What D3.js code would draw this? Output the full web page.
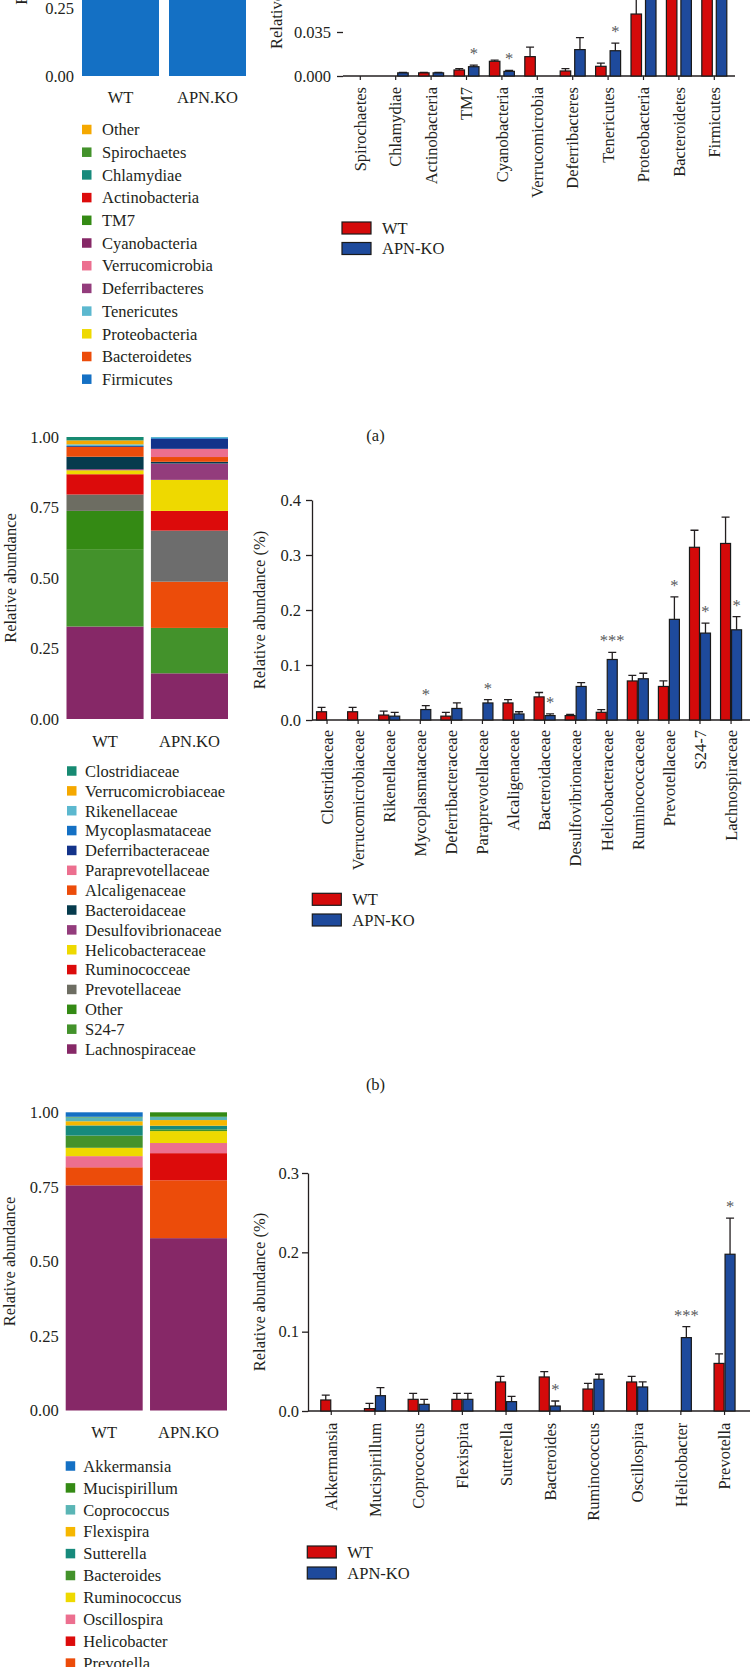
<!DOCTYPE html>
<html><head><meta charset="utf-8">
<script src="https://cdn.jsdelivr.net/npm/d3@7"></script>
<style>
body{margin:0;background:#fff}
svg{display:block}
text{font-family:"Liberation Serif","Times New Roman",serif;fill:#231f20}
</style>
</head><body>
<svg id="fig" width="751" height="1667"></svg>
<script>
// ---------------- DATA ----------------
const groups = ["WT", "APN.KO"];
const seriesNames = ["WT", "APN-KO"];
const stackTicks = [0, 0.25, 0.5, 0.75, 1];

// Panel (a): phyla, stacked (legend order top -> bottom)
const phyla = ["Other","Spirochaetes","Chlamydiae","Actinobacteria","TM7","Cyanobacteria","Verrucomicrobia","Deferribacteres","Tenericutes","Proteobacteria","Bacteroidetes","Firmicutes"];
const phylaColors = ["#f5a800","#43922b","#178a7c","#dc0b0b","#348a14","#862867","#ec6f8f","#933c7c","#5cb8cf","#eed900","#ec4c0a","#1470c4"];
const phylaStackWT = [0.003,0,0,0.002,0.005,0.012,0.015,0.004,0.008,0.049,0.28,0.622];
const phylaStackKO = [0.003,0,0.002,0.002,0.007,0.004,0,0.021,0.02,0.09,0.33,0.521];

// Panel (a): phyla, grouped bars
const phylaCats = ["Spirochaetes","Chlamydiae","Actinobacteria","TM7","Cyanobacteria","Verrucomicrobia","Deferribacteres","Tenericutes","Proteobacteria","Bacteroidetes","Firmicutes"];
const phylaWT    = [0, 0, 0.0025, 0.0048, 0.0117, 0.0154, 0.004, 0.0077, 0.0493, 0.28, 0.62];
const phylaWTErr = [0, 0, 0.0003, 0.001, 0.001, 0.0076, 0.0018, 0.0026, 0.025, 0.04, 0.05];
const phylaKO    = [0, 0.0025, 0.0025, 0.0074, 0.0037, 0, 0.021, 0.0201, 0.09, 0.33, 0.52];
const phylaKOErr = [0, 0.0003, 0.0003, 0.0013, 0.0008, 0, 0.0095, 0.006, 0.02, 0.04, 0.05];
const phylaSig   = ["","","","*","*","","","*","","",""];
const phylaTicks = [0, 0.035];

// Panel (b): families, stacked (legend order top -> bottom)
const families = ["Clostridiaceae","Verrucomicrobiaceae","Rikenellaceae","Mycoplasmataceae","Deferribacteraceae","Paraprevotellaceae","Alcaligenaceae","Bacteroidaceae","Desulfovibrionaceae","Helicobacteraceae","Ruminococceae","Prevotellaceae","Other","S24-7","Lachnospiraceae"];
const familyColors = ["#178a72","#f5a800","#5cb8cf","#1470c4","#13338a","#ec6f8f","#ec4c0a","#063b4d","#933c7c","#eed900","#dc0b0b","#6d6d62","#348a14","#43922b","#862867"];
const familyColorsKO = ["#178a72","#f5a800","#5cb8cf","#1470c4","#13338a","#ec6f8f","#ec4c0a","#063b4d","#933c7c","#eed900","#dc0b0b","#6d6d6d","#ec4c0a","#43922b","#862867"];
const famStackWT = [0.012,0.014,0.006,0,0.003,0,0.035,0.044,0.004,0.014,0.072,0.058,0.138,0.272,0.328];
const famStackKO = [0,0,0.004,0.003,0.035,0.029,0.017,0.006,0.058,0.11,0.07,0.181,0.164,0.161,0.162];

// Panel (b): families, grouped bars
const famCats = ["Clostridiaceae","Verrucomicrobiaceae","Rikenellaceae","Mycoplasmataceae","Deferribacteraceae","Paraprevotellaceae","Alcaligenaceae","Bacteroidaceae","Desulfovibrionaceae","Helicobacteraceae","Ruminococcaceae","Prevotellaceae","S24-7","Lachnospiraceae"];
const famWT    = [0.015,0.015,0.009,0,0.007,0,0.031,0.042,0.008,0.014,0.071,0.061,0.314,0.321];
const famWTErr = [0.008,0.008,0.007,0,0.007,0,0.006,0.008,0.002,0.005,0.01,0.01,0.031,0.048];
const famKO    = [0,0,0.007,0.019,0.021,0.031,0.011,0.008,0.061,0.11,0.075,0.183,0.158,0.164];
const famKOErr = [0,0,0.007,0.007,0.01,0.006,0.004,0.003,0.007,0.013,0.01,0.041,0.018,0.024];
const famSig   = ["","","","*","","*","","*","","***","","*","*","*"];
const famTicks = [0, 0.1, 0.2, 0.3, 0.4];

// Panel (c): genera, stacked (legend order top -> bottom)
const genera = ["Akkermansia","Mucispirillum","Coprococcus","Flexispira","Sutterella","Bacteroides","Ruminococcus","Oscillospira","Helicobacter","Prevotella","Other"];
const genusColors = ["#1470c4","#348a14","#5ab5b5","#f6b700","#178a7c","#43922b","#eed900","#ec6f8f","#dc0b0b","#ec4c0a","#862867"];
const genStackWT = [0.015,0.002,0.013,0.014,0.034,0.041,0.028,0.037,0.001,0.06,0.755];
const genStackKO = [0,0.015,0.011,0.019,0.012,0.006,0.04,0.034,0.091,0.194,0.578];

// Panel (c): genera, grouped bars
const genCats = ["Akkermansia","Mucispirillum","Coprococcus","Flexispira","Sutterella","Bacteroides","Ruminococcus","Oscillospira","Helicobacter","Prevotella"];
const genWT    = [0.0139,0.003,0.0147,0.0147,0.0366,0.0429,0.0277,0.0366,0,0.060];
const genWTErr = [0.006,0.0067,0.0076,0.0076,0.0071,0.0067,0.0072,0.0071,0,0.012];
const genKO    = [0,0.0193,0.0084,0.0147,0.0118,0.0063,0.04,0.0303,0.0925,0.1976];
const genKOErr = [0,0.0101,0.0063,0.0076,0.0067,0.0063,0.0063,0.0063,0.0138,0.0454];
const genSig   = ["","","","","","*","","","***","*"];
const genTicks = [0, 0.1, 0.2, 0.3];

const panelLabels = ["(a)", "(b)"];

// ---------------- STYLE ----------------
const W = 751, H = 1667;
const FS = 16.5;
const WT_COL = "#d40a0a", KO_COL = "#1e4a9c";
const svg = d3.select("#fig");

function drawStacked(o) {
  const y = d3.scaleLinear().domain([0, 1]).range([o.y0, o.y1]);
  const x = d3.scaleBand().domain(groups).range(o.xr).paddingInner(o.pad);
  const vals = [o.wt, o.ko];
  const rows = groups.map((g, i) => {
    const r = { group: g };
    o.names.forEach((n, j) => r[n] = vals[i][j]);
    return r;
  });
  const series = d3.stack().keys(o.names.slice().reverse())(rows);
  const g = svg.append("g");
  series.forEach(s => {
    const idx = o.names.indexOf(s.key);
    g.selectAll(null).data(s.filter(d => d[1] - d[0] > 0)).join("rect")
      .attr("x", d => x(d.data.group))
      .attr("width", x.bandwidth())
      .attr("y", d => y(d[1]))
      .attr("height", d => y(d[0]) - y(d[1]))
      .attr("fill", d => (d.data.group === "APN.KO" && o.colorsKO ? o.colorsKO : o.colors)[idx]);
  });
  // only tick labels that fall inside the picture
  g.selectAll(null).data(stackTicks.filter(d => y(d) > 0)).join("text")
    .attr("x", o.tickRight).attr("y", d => y(d)).attr("dy", "0.35em")
    .attr("text-anchor", "end").attr("font-size", FS)
    .text(d3.format(".2f"));
  g.selectAll(null).data(groups).join("text")
    .attr("x", d => x(d) + x.bandwidth() / 2).attr("y", o.xLabY)
    .attr("text-anchor", "middle").attr("font-size", FS).text(d => d);
  g.append("text")
    .attr("transform", `translate(${o.yLabX},${(o.y0 + o.y1) / 2}) rotate(-90)`)
    .attr("text-anchor", "middle").attr("font-size", FS).text("Relative abundance");
  const items = o.names.map((n, i) => ({ n, i, y: o.legY0 + i * o.legStep })).filter(d => d.y - 8 < H);
  const lg = g.selectAll(null).data(items).join("g")
    .attr("transform", d => `translate(${o.legX},${d.y})`);
  lg.append("rect").attr("x", 0).attr("y", -4.75).attr("width", 9.5).attr("height", 9.5)
    .attr("fill", d => o.colors[d.i]);
  lg.append("text").attr("x", o.legTextDx).attr("y", 0).attr("dy", "0.35em")
    .attr("font-size", FS).text(d => d.n);
}

function drawBars(o) {
  const x = d3.scaleBand().domain(o.cats).range(o.xr);
  const y = d3.scaleLinear().domain([0, o.ticks[o.ticks.length - 1]]).range([o.y0, o.y1]);
  const g = svg.append("g");
  // y axis
  const ax = g.append("g").attr("transform", `translate(${o.axisX},0)`)
    .call(d3.axisLeft(y).tickValues(o.ticks).tickFormat(d3.format(o.fmt)).tickSize(6).tickSizeOuter(0).tickPadding(o.tickPad));
  ax.attr("font-family", null).attr("font-size", null);
  ax.selectAll("text").attr("font-size", FS).attr("fill", "#231f20");
  ax.selectAll("line").attr("stroke", "#231f20").attr("stroke-width", 1.3);
  ax.select(".domain").attr("stroke", "#231f20").attr("stroke-width", 1.3);
  if (o.noDomain) ax.select(".domain").remove();
  // x axis
  g.append("line").attr("x1", o.axisX).attr("x2", o.xEnd).attr("y1", y(0)).attr("y2", y(0))
    .attr("stroke", "#231f20").attr("stroke-width", 1.3);
  g.selectAll(null).data(o.cats).join("line")
    .attr("x1", d => x(d) + x.bandwidth() / 2).attr("x2", d => x(d) + x.bandwidth() / 2)
    .attr("y1", y(0)).attr("y2", y(0) + 4)
    .attr("stroke", "#231f20").attr("stroke-width", 1.2);
  g.selectAll(null).data(o.cats).join("text")
    .attr("transform", d => `translate(${x(d) + x.bandwidth() / 2},${y(0) + o.labGap}) rotate(-90)`)
    .attr("dy", "0.35em").attr("text-anchor", "end").attr("font-size", FS).text(d => d);
  // y label
  g.append("text")
    .attr("transform", `translate(${o.yLabX},${o.yLabY}) rotate(-90)`)
    .attr("text-anchor", o.yLabAnchor).attr("font-size", FS).text("Relative abundance (%)");
  // bars
  const sets = [
    { v: o.wt, e: o.wtErr, col: WT_COL, off: -o.gap - o.bw },
    { v: o.ko, e: o.koErr, col: KO_COL, off: o.gap }
  ];
  sets.forEach(s => {
    const data = o.cats.map((c, i) => ({ c, v: s.v[i], e: s.e[i] })).filter(d => d.v > 0);
    const cx = d => x(d.c) + x.bandwidth() / 2 + s.off + o.bw / 2;
    g.selectAll(null).data(data.filter(d => d.e > 0)).join("path")
      .attr("d", d => `M${cx(d)},${y(d.v)}V${y(d.v + d.e)}M${cx(d) - o.cap / 2},${y(d.v + d.e)}H${cx(d) + o.cap / 2}`)
      .attr("stroke", "#231f20").attr("stroke-width", 1.3).attr("fill", "none");
    g.selectAll(null).data(data).join("rect")
      .attr("x", d => x(d.c) + x.bandwidth() / 2 + s.off)
      .attr("width", o.bw)
      .attr("y", d => y(d.v))
      .attr("height", d => y(0) - y(d.v))
      .attr("fill", s.col).attr("stroke", "#1a1a1a").attr("stroke-width", 1.2);
  });
  // significance
  g.selectAll(null).data(o.cats.map((c, i) => ({ c, s: o.sig[i], top: o.ko[i] + o.koErr[i] })).filter(d => d.s))
    .join("text")
    .attr("x", d => x(d.c) + x.bandwidth() / 2 + o.gap + o.bw / 2)
    .attr("y", d => y(d.top) - 6)
    .attr("text-anchor", "middle").attr("font-size", FS).style("fill", "#58595b")
    .text(d => d.s);
  // legend
  const lg = g.selectAll(null).data(seriesNames).join("g")
    .attr("transform", (d, i) => `translate(${o.legX},${o.legY + i * o.legStep})`);
  lg.append("rect").attr("width", 29).attr("height", 12)
    .attr("fill", (d, i) => i ? KO_COL : WT_COL).attr("stroke", "#1a1a1a").attr("stroke-width", 1.2);
  lg.append("text").attr("x", 40).attr("y", 6).attr("dy", "0.35em").attr("font-size", FS).text(d => d);
}

// ---------------- PANEL (a) ----------------
drawStacked({ names: phyla, colors: phylaColors, wt: phylaStackWT, ko: phylaStackKO,
  y0: 76, y1: -196, xr: [82, 246], pad: 0.115, tickRight: 74, xLabY: 103, yLabX: 27,
  legX: 82, legTextDx: 20, legY0: 129.5, legStep: 22.7 });
drawBars({ cats: phylaCats, wt: phylaWT, wtErr: phylaWTErr, ko: phylaKO, koErr: phylaKOErr, sig: phylaSig,
  ticks: phylaTicks, fmt: ".3f", y0: 76, y1: 32, xr: [342.6, 732], axisX: 343, xEnd: 735, tickPad: 6,
  noDomain: true, bw: 10.5, gap: 2, cap: 8, labGap: 11, yLabX: 282, yLabY: 49, yLabAnchor: "start",
  legX: 342, legY: 222, legStep: 20.5 });

// ---------------- PANEL (b) ----------------
drawStacked({ names: families, colors: familyColors, colorsKO: familyColorsKO, wt: famStackWT, ko: famStackKO,
  y0: 719, y1: 437, xr: [66.5, 228], pad: 0.087, tickRight: 59, xLabY: 746.5, yLabX: 16,
  legX: 67, legTextDx: 18, legY0: 771, legStep: 19.86 });
drawBars({ cats: famCats, wt: famWT, wtErr: famWTErr, ko: famKO, koErr: famKOErr, sig: famSig,
  ticks: famTicks, fmt: ".1f", y0: 720, y1: 500, xr: [311.5, 746.6], axisX: 312, xEnd: 750, tickPad: 5,
  noDomain: false, bw: 10, gap: 0.5, cap: 8, labGap: 10, yLabX: 265, yLabY: 610, yLabAnchor: "middle",
  legX: 312.3, legY: 893.3, legStep: 20.7 });

// ---------------- PANEL (c) ----------------
drawStacked({ names: genera, colors: genusColors, wt: genStackWT, ko: genStackKO,
  y0: 1410.5, y1: 1112.3, xr: [65.7, 227], pad: 0.087, tickRight: 58.7, xLabY: 1438, yLabX: 15,
  legX: 65.7, legTextDx: 17.6, legY0: 1466, legStep: 21.9 });
drawBars({ cats: genCats, wt: genWT, wtErr: genWTErr, ko: genKO, koErr: genKOErr, sig: genSig,
  ticks: genTicks, fmt: ".1f", y0: 1411, y1: 1173, xr: [309.4, 746.4], axisX: 308, xEnd: 750, tickPad: 3,
  noDomain: false, bw: 10, gap: 0.5, cap: 8, labGap: 11.7, yLabX: 265, yLabY: 1292, yLabAnchor: "middle",
  legX: 307.3, legY: 1546, legStep: 21 });

// panel labels
svg.selectAll(null).data(panelLabels).join("text")
  .attr("x", 375.5).attr("y", (d, i) => [435, 1084][i]).attr("dy", "0.35em")
  .attr("text-anchor", "middle").attr("font-size", FS).text(d => d);
</script>
</body></html>
